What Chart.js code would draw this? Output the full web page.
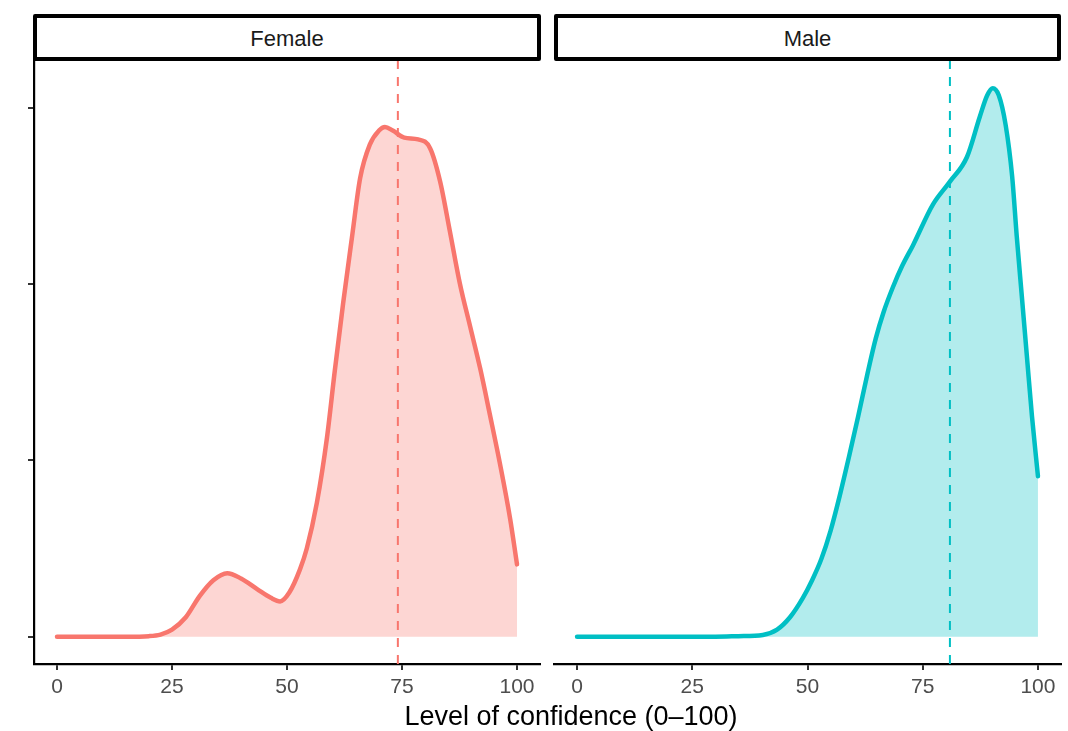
<!DOCTYPE html>
<html>
<head>
<meta charset="utf-8">
<script src="https://cdn.jsdelivr.net/npm/chart.js@4"></script>
<style>
  body { margin: 0; background: #fff; font-family: "Liberation Sans", Arial, sans-serif; }
  #wrap { position: relative; width: 1068px; height: 731px; }
  canvas { position: absolute; top: 0; }
  .strip {
    position: absolute; top: 14px; height: 39px; box-sizing: content-box;
    border: 4px solid #000; border-radius: 2px; background: #fff;
    text-align: center; line-height: 42px; font-size: 22px; color: #1a1a1a;
  }
  #xtitle { position: absolute; left: 0; width: 1142px; top: 701px; text-align: center; font-size: 27px; color: #000; }
</style>
</head>
<body>
<div id="wrap">
  <canvas id="panelFemale" width="547" height="731" style="left:0"></canvas>
  <canvas id="panelMale" width="521" height="731" style="left:547px"></canvas>
  <div class="strip" id="strip0" style="left:33px; width:500px"></div>
  <div class="strip" id="strip1" style="left:554px; width:499px"></div>
  <div id="xtitle">Level of confidence (0–100)</div>
</div>
<script>
// facets + axis ticks
const panels = ['Female', 'Male']
const xTicks = [0, 25, 50, 75, 100]
const yTicks = [0, 0.01, 0.02, 0.03]

// density
const femaleX = [0, 5, 10, 15, 20, 22.5, 25, 28, 31, 34, 37, 40, 43.5, 46.5, 48.5, 50.5, 52.8, 54.3, 56.5, 58.7, 60.4, 62.2, 64.1, 65.9, 68, 70, 71.3, 73, 75.5, 78.5, 81.1, 83.3, 85.4, 87.6, 89.8, 92, 94.1, 96.3, 98.5, 100]
const femaleDensity = [0, 0, 0, 0, 0.00003, 0.00012, 0.0004, 0.0011, 0.0023, 0.0032, 0.0036, 0.0033, 0.0027, 0.0022, 0.0020, 0.0025, 0.0038, 0.0050, 0.0076, 0.0113, 0.0151, 0.0189, 0.0226, 0.0260, 0.0279, 0.0287, 0.0289, 0.0287, 0.0283, 0.0282, 0.0277, 0.0258, 0.0230, 0.0200, 0.0176, 0.0152, 0.0126, 0.0098, 0.0067, 0.0041]

const maleX = [0, 10, 20, 30, 35, 40.3, 43.4, 46.2, 49, 51, 53, 55, 57, 59, 61, 63, 64.8, 66.5, 68.5, 70.5, 72.9, 77.2, 80.9, 84.6, 87.4, 89, 90.2, 91.5, 93, 94.4, 95.4, 96.5, 97.6, 98.7, 100]
const maleDensity = [0, 0, 0, 0, 0.00003, 0.0001, 0.0004, 0.0011, 0.0022, 0.0032, 0.0044, 0.0060, 0.0080, 0.0102, 0.0125, 0.0149, 0.0169, 0.0184, 0.0198, 0.0210, 0.0222, 0.0245, 0.0258, 0.0272, 0.0295, 0.0307, 0.0311, 0.0307, 0.0290, 0.0261, 0.0227, 0.0193, 0.0159, 0.0125, 0.0091]

const meanValues = [74.1, 80.9]

const lineColors = ['#F8766D', '#00BFC4']
const fillColors = ['rgba(248,118,109,0.3)', 'rgba(0,191,196,0.3)']

const xRange = [-5, 105]
const yRange = [-0.00155, 0.0327]

Chart.defaults.font.family = '"Liberation Sans", Arial, sans-serif'

function makePanel(canvasId, i, xs, ys, showY, pad) {
  const curve = xs.map((x, k) => ({ x: x, y: ys[k] }))
  const meanLine = [{ x: meanValues[i], y: yRange[0] }, { x: meanValues[i], y: yRange[1] }]
  return new Chart(document.getElementById(canvasId), {
    type: 'line',
    data: {
      datasets: [
        {
          data: meanLine,
          borderColor: lineColors[i],
          borderWidth: 2,
          borderDash: [9, 8],
          pointRadius: 0,
          fill: false
        },
        {
          data: curve,
          borderColor: lineColors[i],
          backgroundColor: fillColors[i],
          borderWidth: 4.5,
          borderCapStyle: 'round',
          cubicInterpolationMode: 'monotone',
          pointRadius: 0,
          fill: 'origin'
        }
      ]
    },
    options: {
      responsive: false,
      animation: false,
      events: [],
      layout: { padding: pad },
      plugins: { legend: { display: false }, tooltip: { enabled: false } },
      scales: {
        x: {
          type: 'linear',
          min: xRange[0],
          max: xRange[1],
          afterBuildTicks: s => { s.ticks = xTicks.map(v => ({ value: v })) },
          afterFit: s => { s.height = 731 - 664 },
          border: { display: true, color: '#000', width: 2.2 },
          grid: { drawOnChartArea: false, drawTicks: true, tickLength: 6, tickColor: '#333', lineWidth: 2 },
          ticks: { color: '#4d4d4d', font: { size: 21 }, padding: 5, maxRotation: 0 }
        },
        y: {
          type: 'linear',
          display: showY,
          min: yRange[0],
          max: yRange[1],
          afterBuildTicks: s => { s.ticks = yTicks.map(v => ({ value: v })) },
          afterFit: s => { s.width = showY ? 34 : 0 },
          border: { display: true, color: '#000', width: 2.2 },
          grid: { drawOnChartArea: false, drawTicks: true, tickLength: 6, tickColor: '#333', lineWidth: 2 },
          ticks: { callback: () => '', padding: 0 }
        }
      }
    }
  })
}

panels.forEach((p, i) => { document.getElementById('strip' + i).textContent = p })

const chartFemale = makePanel('panelFemale', 0, femaleX, femaleDensity, true, { top: 60, right: 7, left: 0, bottom: 0 })
const chartMale = makePanel('panelMale', 1, maleX, maleDensity, false, { top: 60, right: 7, left: 7, bottom: 0 })
</script>
</body>
</html>
